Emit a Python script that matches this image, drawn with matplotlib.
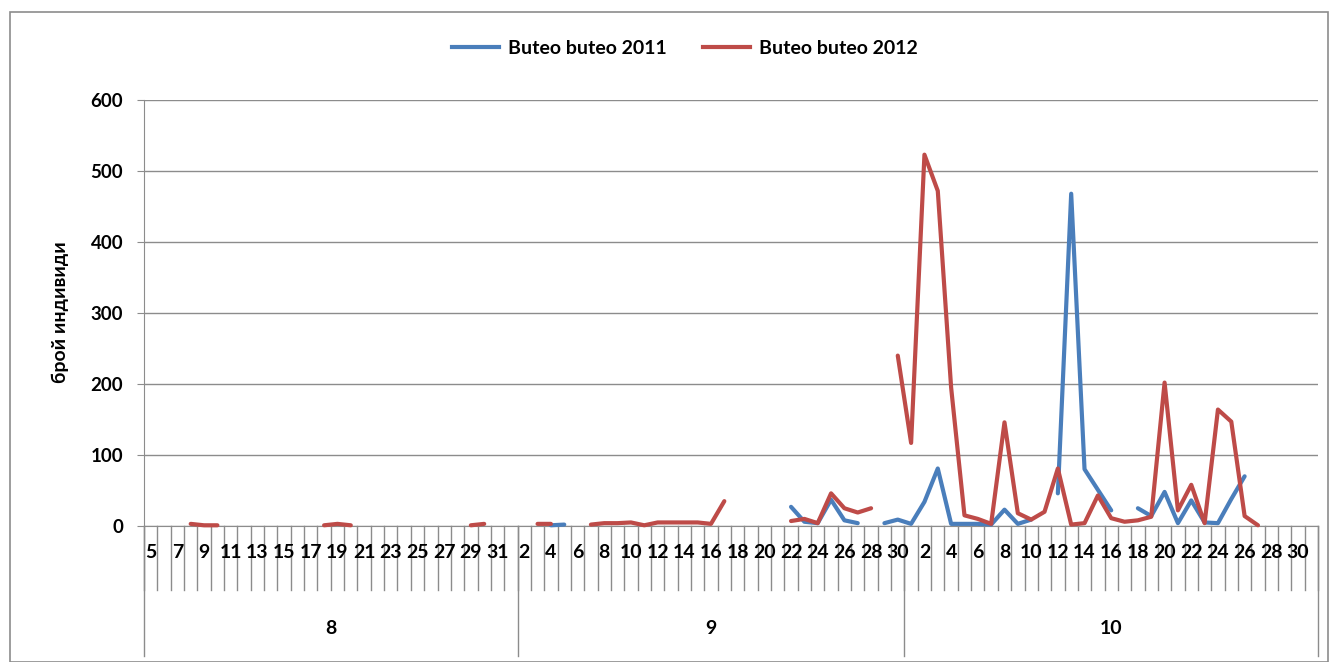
import numpy as np
import matplotlib
matplotlib.use("Agg")
from matplotlib import pyplot as plt
from matplotlib.patches import Rectangle
from matplotlib.lines import Line2D

plt.rcParams['font.family'] = ['Lato', 'DejaVu Sans']
plt.rcParams['font.weight'] = 'bold'

N = None
# days per month (month 8 ends with an extra entry, shown unlabeled)
aug_days = list(range(5, 32)) + [1]
sep_days = list(range(2, 31))
oct_days = list(range(1, 32))
months = ['8', '9', '10']

# Buteo buteo 2011
b2011_aug = [N] * 28
b2011_sep = [N, N, 1, 2, N, N, N, N, N, N, N, N, N, N, N, N, N, N, N, N,
             27, 6, 4, 37, 8, 4, N, 4, 9]
b2011_oct = [3, 34, 81, 3, 3, 3, 2, 23, 3, 9, N, 46, 468, 80, 51, 22, N,
             25, 14, 48, 4, 36, 5, 4, 38, 70, N, N, N, N, N]

# Buteo buteo 2012
b2012_aug = [N, N, N, 3, 1, 1, N, N, N, N, N, N, N, 1, 3, 1, N, N, N, N,
             N, N, N, N, 1, 3, N, N]
b2012_sep = [N, 3, 3, N, N, 2, 4, 4, 5, 1, 5, 5, 5, 5, 3, 35, N, N, N, N,
             7, 10, 4, 46, 25, 19, 25, N, 240]
b2012_oct = [117, 523, 472, 195, 15, 10, 3, 146, 18, 9, 20, 81, 2, 4, 43, 11,
             6, 8, 13, 202, 22, 58, 4, 164, 147, 14, 1, N, N, N, N]

days = aug_days + sep_days + oct_days
groups = [len(aug_days), len(sep_days), len(oct_days)]
y2011 = np.array([np.nan if v is None else v for v in b2011_aug + b2011_sep + b2011_oct], dtype=float)
y2012 = np.array([np.nan if v is None else v for v in b2012_aug + b2012_sep + b2012_oct], dtype=float)
x = np.arange(len(days))

W, H = 1339, 662
fig = plt.figure(figsize=(W / 100, H / 100), dpi=100)
L, R, T, B = 144, 1318, 100, 526
ax = fig.add_axes([L / W, 1 - B / H, (R - L) / W, (B - T) / H])

grey = '#8c8c8c'
blue = '#4a7ebb'
red = '#be4b48'

ax.plot(x, y2011, color=blue, lw=3, solid_joinstyle='round', solid_capstyle='round', clip_on=False, zorder=3)
ax.plot(x, y2012, color=red, lw=3, solid_joinstyle='round', solid_capstyle='round', clip_on=False, zorder=4)

ax.set_xlim(-0.5, len(days) - 0.5)
ax.set_ylim(0, 600)
ax.set_yticks(range(0, 601, 100))
ax.yaxis.grid(True, color=grey, lw=1)
ax.set_axisbelow(True)
ax.tick_params(axis='y', length=5, color=grey, pad=10, labelsize=13.5)
ax.set_xticks([])
for s in ['top', 'right']:
    ax.spines[s].set_visible(False)
for s in ['left', 'bottom']:
    ax.spines[s].set_color(grey)

# multi-level category axis
ah = B - T
tr = ax.get_xaxis_transform()
for i in range(len(days) + 1):
    ax.plot([i - 0.5, i - 0.5], [0, -64 / ah], color=grey, lw=1, transform=tr, clip_on=False)
for i in range(0, len(days), 2):
    ax.text(i, -26 / ah, str(days[i]), transform=tr, ha='center', va='center', fontsize=14)
start = 0
for g, m in zip(groups, months):
    ax.plot([start - 0.5, start - 0.5], [0, -130 / ah], color=grey, lw=1, transform=tr, clip_on=False)
    ax.text(start + g / 2 - 0.5, -102 / ah, m, transform=tr, ha='center', va='center', fontsize=14)
    start += g
ax.plot([start - 0.5, start - 0.5], [0, -130 / ah], color=grey, lw=1, transform=tr, clip_on=False)

fig.text(60 / W, 1 - 312 / H, 'брой индивиди', rotation=90, ha='center', va='center', fontsize=14)

handles = [Line2D([], [], color=blue, lw=3), Line2D([], [], color=red, lw=3)]
fig.legend(handles, ['Buteo buteo 2011', 'Buteo buteo 2012'], loc='center',
           bbox_to_anchor=(685 / W, 1 - 48 / H), ncol=2, frameon=False,
           fontsize=14, handlelength=2.4, columnspacing=1.9, handletextpad=0.45)

fig.patches.append(Rectangle((10 / W, 0), 1318 / W, 1 - 12 / H, transform=fig.transFigure,
                             fill=False, edgecolor=grey, lw=1.2))

fig.savefig('out.png', dpi=100)
